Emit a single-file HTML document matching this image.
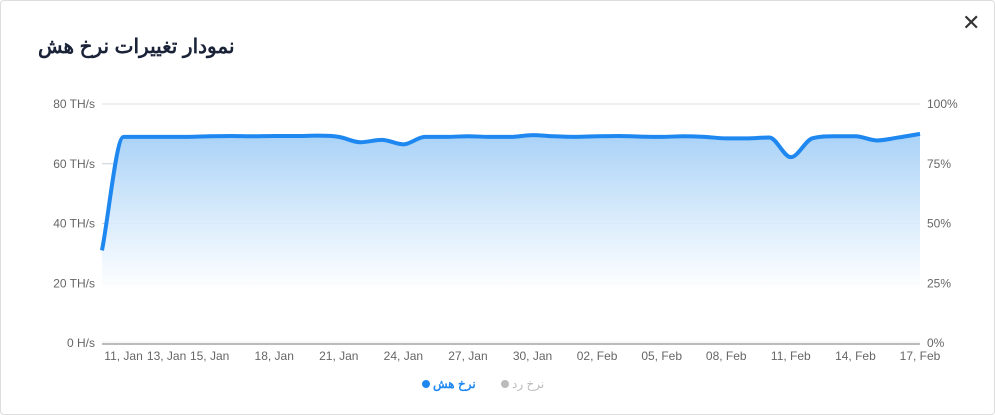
<!DOCTYPE html>
<html><head><meta charset="utf-8">
<style>
html,body{margin:0;padding:0;background:#fff;}
body{width:995px;height:415px;position:relative;overflow:hidden;font-family:"Liberation Sans","Noto Sans CJK SC",sans-serif;}
.frame{position:absolute;left:0;top:0;width:993px;height:413px;border:1px solid #ddd;border-radius:4px;}
.title{position:absolute;left:38px;top:34px;font-size:20px;font-weight:bold;color:#1a2238;direction:rtl;}
.close{position:absolute;left:962px;top:10px;font-size:22px;color:#333;}
</style></head><body>
<div class="frame"></div>
<div class="title">نمودار تغییرات نرخ هش</div>
<div class="close">✕</div>
<svg id="chart" width="995" height="415" style="position:absolute;left:0;top:0">
<defs><linearGradient id="g" x1="0" y1="0" x2="0" y2="1">
<stop offset="0" stop-color="#a9d2f7"/><stop offset="0.75" stop-color="#ffffff" stop-opacity="0.9"/></linearGradient></defs>
</svg>
<script>
const categories=["10, Jan","11, Jan","12, Jan","13, Jan","14, Jan","15, Jan","16, Jan","17, Jan","18, Jan","19, Jan","20, Jan","21, Jan","22, Jan","23, Jan","24, Jan","25, Jan","26, Jan","27, Jan","28, Jan","29, Jan","30, Jan","31, Jan","01, Feb","02, Feb","03, Feb","04, Feb","05, Feb","06, Feb","07, Feb","08, Feb","09, Feb","10, Feb","11, Feb","12, Feb","13, Feb","14, Feb","15, Feb","16, Feb","17, Feb"];
const hashValues=[31,69,69,69,69,69.2,69.3,69.2,69.3,69.3,69.4,69,67.2,68,66.5,69,69,69.2,69,69,69.6,69.2,69,69.2,69.3,69.1,69,69.2,69,68.5,68.5,68.8,62.2,68.5,69.2,69.2,67.8,68.8,70];
const leftTicks=[0,20,40,60,80];
const leftTickLabels=["0 H/s","20 TH/s","40 TH/s","60 TH/s","80 TH/s"];
const rightTickLabels=["0%","25%","50%","75%","100%"];
const xTickLabels=["11, Jan","13, Jan","15, Jan","18, Jan","21, Jan","24, Jan","27, Jan","30, Jan","02, Feb","05, Feb","08, Feb","11, Feb","14, Feb","17, Feb"];

const svg=document.getElementById('chart');
const NS='http://www.w3.org/2000/svg';
const X0=102,X1=920,Y0=343,Y1=104;
const xs=i=>X0+(X1-X0)*i/(categories.length-1);
const ys=v=>Y0-(Y0-Y1)*v/80;
function mk(t,a){const e=document.createElementNS(NS,t);for(const k in a)e.setAttribute(k,a[k]);svg.appendChild(e);return e;}
leftTicks.forEach((t,i)=>{
  const y=ys(t);
  const l=mk('line',{x1:X0,x2:X1,y1:y,y2:y,stroke:i==0?'#bbb':(i==4?'#e2e2e2':'#c8d0d8'),'stroke-width':i==0?4:1});
  
  
  const a=mk('text',{x:95,y:y+4,'text-anchor':'end','font-size':12,fill:'#666'});a.textContent=leftTickLabels[i];
  
  
  const b=mk('text',{x:927,y:y+4,'font-size':12,fill:'#666'});b.textContent=rightTickLabels[i];
  
  
});
xTickLabels.forEach(lab=>{
  const i=categories.indexOf(lab);
  const t=mk('text',{x:xs(i),y:360,'text-anchor':'middle','font-size':12,fill:'#666'});t.textContent=lab;
  
  
});
const pts=hashValues.map((v,i)=>[xs(i),ys(v)]);
// monotone cubic
const n=pts.length,dx=[],sl=[],m=[];
for(let i=0;i<n-1;i++){dx[i]=pts[i+1][0]-pts[i][0];sl[i]=(pts[i+1][1]-pts[i][1])/dx[i];}
m[0]=sl[0];m[n-1]=sl[n-2];
for(let i=1;i<n-1;i++){m[i]=(sl[i-1]*sl[i]<=0)?0:(sl[i-1]+sl[i])/2;}
for(let i=0;i<n-1;i++){
  if(sl[i]===0){m[i]=0;m[i+1]=0;continue;}
  const a=m[i]/sl[i],b=m[i+1]/sl[i],s=a*a+b*b;
  if(s>9){const t=3/Math.sqrt(s);m[i]=t*a*sl[i];m[i+1]=t*b*sl[i];}
}
let d='M'+pts[0][0]+','+pts[0][1];
for(let i=0;i<n-1;i++){
  const h=dx[i]/3;
  d+=` C${pts[i][0]+h},${pts[i][1]+m[i]*h} ${pts[i+1][0]-h},${pts[i+1][1]-m[i+1]*h} ${pts[i+1][0]},${pts[i+1][1]}`;
}
const area=mk('path',{d:d+` L${X1},${Y0} L${X0},${Y0} Z`,fill:'url(#g)'});


const line=mk('path',{d:d,fill:'none',stroke:'#1e88f0','stroke-width':4,'stroke-linejoin':'round'});


const c1=mk('circle',{cx:426,cy:384,r:4,fill:'#1e88f0'});


const t1=mk('text',{x:433,y:388,'font-size':12,'font-weight':'bold',fill:'#1e88f0'});t1.textContent='نرخ هش';


const c2=mk('circle',{cx:505,cy:384,r:4,fill:'#bbb'});


const t2=mk('text',{x:512,y:388,'font-size':12,fill:'#bbb'});t2.textContent='نرخ رد';


</script>
</body></html>
